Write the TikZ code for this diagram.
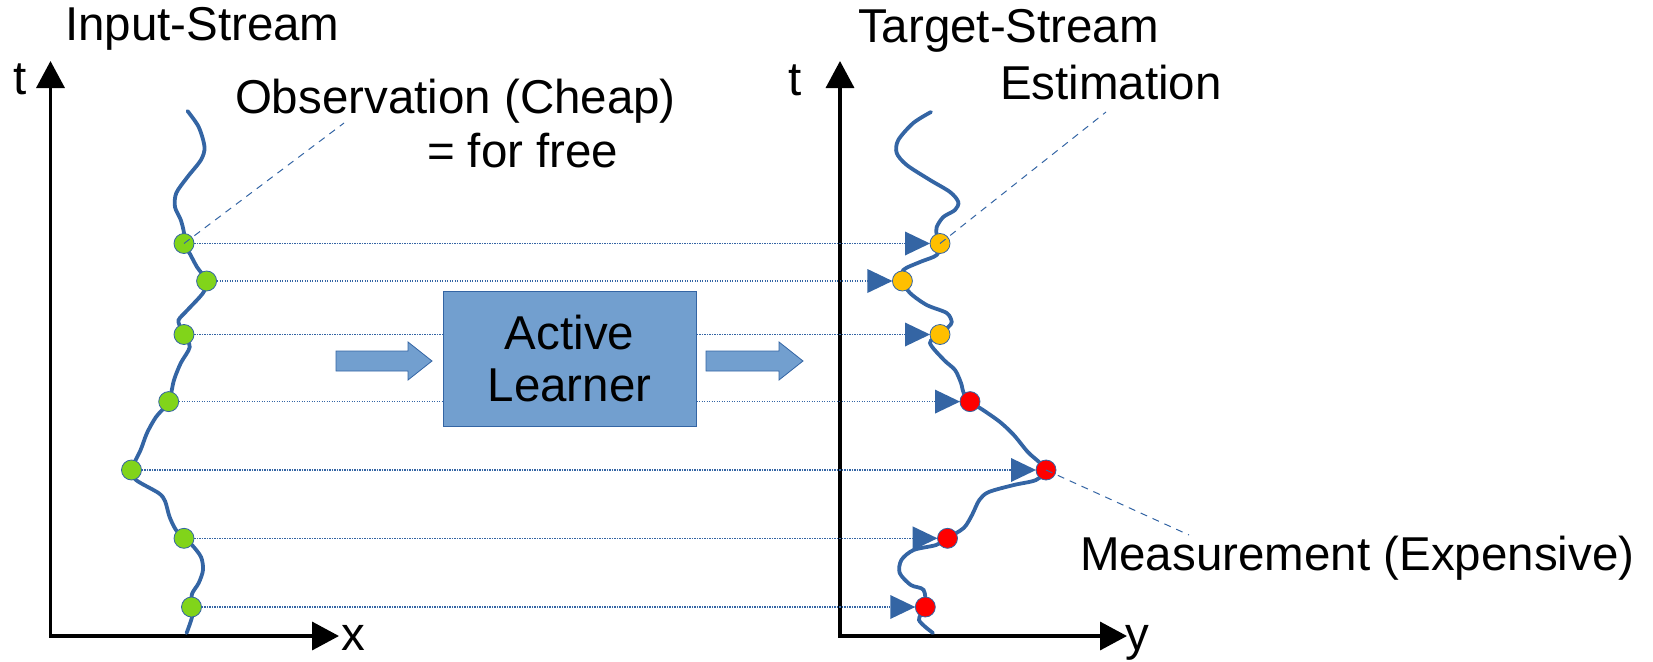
\documentclass[tikz,border=0pt]{standalone}
\usepackage{fontspec}
\setmainfont{Liberation Sans}
\usetikzlibrary{arrows.meta,calc}
\definecolor{lblue}{HTML}{3465A4}
\definecolor{boxfill}{HTML}{729FCF}
\definecolor{dotgreen}{HTML}{81D41A}
\definecolor{dotorange}{HTML}{FFBF00}
\definecolor{dotred}{HTML}{FF0000}
\begin{document}
\begin{tikzpicture}[x=1pt,y=-1pt,
  lbl/.style={font=\fontsize{47.5}{57}\selectfont, inner sep=0pt, outer sep=0pt, anchor=base west},
  axisline/.style={line width=3.5pt, black, {Triangle[length=27pt,width=28pt]}-{Triangle[length=27pt,width=28pt]}},
  streamline/.style={line width=3.8pt, lblue, line cap=round},
  obs/.style={circle, draw=lblue, line width=0.8pt, minimum size=20pt, inner sep=0pt},
  dotline/.style={lblue, line width=1.1pt, dash pattern=on 1.1pt off 1.4pt},
  callout/.style={lblue, line width=1pt, dash pattern=on 7pt off 6pt},
  blockarrow/.style={fill=boxfill, draw=lblue, line width=0.8pt},
]
\useasboundingbox (0,0) rectangle (1653,661);

% axes
\coordinate (LT) at (50.5,61);
\coordinate (LR) at (339,636);
\coordinate (RT) at (840,61);
\coordinate (RR) at (1127,636);
\draw[axisline] (LT) |- (LR);
\draw[axisline] (RT) |- (RR);

% streams
\draw[streamline] plot[smooth, tension=0.5] coordinates {(187.5,111) (198.7,127) (204.5,147) (200.9,160) (187.5,177) (176.3,193) (175,207) (180.8,220) (184,233) (184,243.5) (190,254) (197,267) (206.6,281) (203,293) (187.5,310) (178.6,320) (180.8,328) (184,334.5) (189.7,347) (180.8,363) (174,380) (168.7,401.6) (156,417) (147,433) (140.6,450) (131.5,470) (136,480) (158.5,493) (165,501) (169.6,517) (176,530) (184,538.3) (192,545) (201,557) (203,570) (198.7,583) (192,594) (191.5,607) (192,617) (186.6,633)};
\draw[streamline] plot[smooth, tension=0.5] coordinates {(931,112) (913.3,123) (898.3,140) (896.7,153) (906.7,165) (930,180) (950,192) (958.3,202) (955,210) (943.3,217) (936.7,227) (936.7,235) (940,243.5) (936.7,255) (920,262) (903.3,270) (902.4,281) (910,293) (926.7,305) (946.7,313) (951.7,322) (948.3,327) (940,334.5) (930,343) (944,360) (955,370) (961,383) (963.7,393) (970,401.6) (983,410) (1000,422) (1013.8,435) (1027.8,452) (1039,462) (1046,470) (1036,480) (1013.8,485) (988.8,492) (979.3,500) (972,515) (963.7,528) (947.5,538) (936,545) (913.6,550) (901.4,560) (899.7,573) (910.8,585) (923.6,590) (925.3,607) (919,620) (933,633)};

% observation dots
\node[obs, fill=dotgreen] (L1) at (184,243.5) {};
\node[obs, fill=dotgreen] (L2) at (206.6,281) {};
\node[obs, fill=dotgreen] (L3) at (184,334.5) {};
\node[obs, fill=dotgreen] (L4) at (168.7,401.6) {};
\node[obs, fill=dotgreen] (L5) at (131.5,470) {};
\node[obs, fill=dotgreen] (L6) at (184,538.3) {};
\node[obs, fill=dotgreen] (L7) at (191.5,607) {};
\node[obs, fill=dotorange] (R1) at (940,243.5) {};
\node[obs, fill=dotorange] (R2) at (902.4,281) {};
\node[obs, fill=dotorange] (R3) at (940,334.5) {};
\node[obs, fill=dotred] (R4) at (970,401.6) {};
\node[obs, fill=dotred] (R5) at (1046,470) {};
\node[obs, fill=dotred] (R6) at (947.5,538.3) {};
\node[obs, fill=dotred] (R7) at (925.3,607) {};

% dotted links and markers
\foreach \i in {1,...,7}{
  \coordinate (T\i) at ($(R\i)+(-35,0)$);
  \draw[dotline] (L\i.east) -- (T\i);
  \fill[lblue] (T\i) ++(0,-12) -- ++(25,12) -- ++(-25,12) -- cycle;
}

% active learner
\node[draw=lblue, fill=boxfill, line width=0.8pt, minimum width=253pt, minimum height=135pt, inner sep=0pt, align=center, font=\fontsize{47.5}{52}\selectfont] (AL) at (569.5,358.5) {Active\\Learner};
\draw[blockarrow] (336,351) -- (408,351) -- (408,342) -- (432,361) -- (408,380) -- (408,371) -- (336,371) -- cycle;
\draw[blockarrow] (706,351) -- (779,351) -- (779,342) -- (803,361) -- (779,380) -- (779,371) -- (706,371) -- cycle;

% callouts
\coordinate (obsC) at (344,123);
\coordinate (estC) at (1106,112);
\coordinate (meaC) at (1189,535);
\draw[callout] (L1.center) -- (obsC);
\draw[callout] (R1.center) -- (estC);
\draw[callout] (R5.center) -- (meaC);

% labels
\node[lbl] (instream) at (65,41) {Input-Stream};
\node[lbl] (tgtstream) at (858,42) {Target-Stream};
\node[lbl] (obslbl) at (235,113) {Observation (Cheap)};
\node[lbl] (freelbl) at (427,167) {= for free};
\node[lbl] (estlbl) at (1000,99) {Estimation};
\node[lbl] (measlbl) at (1080,570) {Measurement (Expensive)};
\node[lbl] (tl) at (13,94) {t};
\node[lbl] (tr) at (788,95) {t};
\node[lbl] (xl) at (341,650) {x};
\node[lbl] (yl) at (1125,650) {y};
\end{tikzpicture}
\end{document}
